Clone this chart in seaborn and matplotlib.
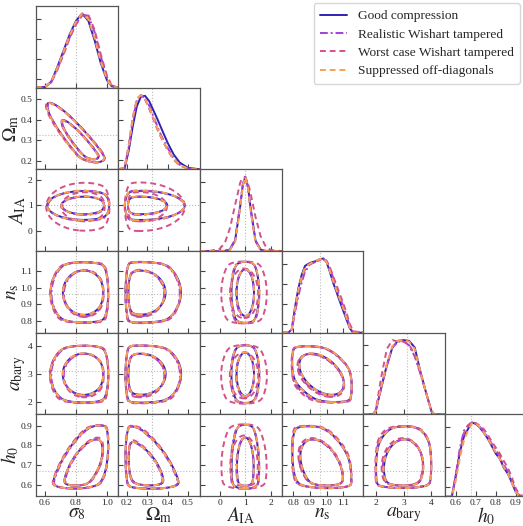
import numpy as np
import matplotlib
matplotlib.use("Agg")
import matplotlib.pyplot as plt
from matplotlib.lines import Line2D
from matplotlib.ticker import FormatStrFormatter
import seaborn as sns

# parameters and axes
LABELS = [r"$\sigma_8$", r"$\Omega_{\rm m}$", r"$A_{\rm IA}$", r"$n_{\rm s}$", r"$a_{\rm bary}$", r"$h_0$"]
LIMITS = [(0.542, 1.07), (0.157, 0.557), (-0.79, 2.42), (0.728, 1.222), (1.56, 4.49), (0.546, 0.956)]
TICKS = [[0.6, 0.8, 1.0], [0.2, 0.3, 0.4, 0.5], [0, 1, 2], [0.8, 0.9, 1.0, 1.1], [2, 3, 4], [0.6, 0.7, 0.8, 0.9]]
TICKFMT = ["%.1f", "%.1f", "%d", "%.1f", "%d", "%.1f"]
TRUTH = [0.8, 0.325, 1.0, 0.96, 3.12, 0.674]

SERIES = ["Good compression", "Realistic Wishart tampered", "Worst case Wishart tampered", "Suppressed off-diagonals"]
COLORS = ["#3022b5", "#a040dc", "#d6508c", "#f7a055"]
STYLES = ["-", (0, (4, 1.5, 1, 1.5)), (0, (3, 2)), (0, (3, 2))]

# 1D marginals (peak = 1)
S8_X = [0.54, 0.6, 0.64, 0.68, 0.72, 0.76, 0.8, 0.84, 0.88, 0.92, 0.96, 1.0, 1.03, 1.07]
S8_GOOD = [0, 0.01, 0.08, 0.28, 0.5, 0.72, 0.9, 1.0, 0.9, 0.64, 0.33, 0.1, 0.02, 0]
S8_REAL = [0, 0.01, 0.07, 0.25, 0.46, 0.68, 0.86, 0.98, 0.97, 0.75, 0.42, 0.14, 0.03, 0]
S8_WORST = [0, 0.01, 0.07, 0.24, 0.45, 0.67, 0.85, 0.97, 0.98, 0.78, 0.45, 0.16, 0.03, 0]
S8_SUPP = [0, 0.01, 0.08, 0.27, 0.49, 0.71, 0.89, 1.0, 0.92, 0.67, 0.35, 0.11, 0.02, 0]

OM_X = [0.16, 0.19, 0.21, 0.23, 0.25, 0.27, 0.29, 0.31, 0.33, 0.35, 0.37, 0.4, 0.43, 0.46, 0.5, 0.56]
OM_GOOD = [0, 0.01, 0.25, 0.58, 0.85, 0.98, 0.99, 0.92, 0.8, 0.68, 0.55, 0.36, 0.2, 0.09, 0.02, 0]
OM_REAL = [0, 0.02, 0.3, 0.66, 0.93, 1.0, 0.96, 0.86, 0.72, 0.58, 0.45, 0.29, 0.15, 0.06, 0.01, 0]
OM_WORST = [0, 0.02, 0.32, 0.7, 0.95, 1.0, 0.94, 0.82, 0.68, 0.54, 0.42, 0.26, 0.13, 0.05, 0.01, 0]
OM_SUPP = [0, 0.02, 0.3, 0.68, 0.95, 1.0, 0.95, 0.84, 0.7, 0.56, 0.43, 0.27, 0.14, 0.06, 0.01, 0]

AIA_X = [-0.8, -0.4, 0.0, 0.2, 0.4, 0.6, 0.8, 0.9, 1.0, 1.1, 1.2, 1.4, 1.6, 1.8, 2.0, 2.4]
AIA_GOOD = [0, 0, 0, 0.002, 0.02, 0.14, 0.6, 0.88, 1.0, 0.88, 0.6, 0.14, 0.02, 0.002, 0, 0]
AIA_REAL = [0, 0, 0, 0.003, 0.025, 0.16, 0.63, 0.9, 1.0, 0.86, 0.57, 0.13, 0.02, 0.002, 0, 0]
AIA_WORST = [0, 0.001, 0.03, 0.11, 0.31, 0.62, 0.92, 0.99, 0.99, 0.92, 0.79, 0.46, 0.2, 0.06, 0.014, 0]
AIA_SUPP = [0, 0, 0, 0.001, 0.015, 0.12, 0.58, 0.88, 1.0, 0.87, 0.57, 0.12, 0.015, 0.001, 0, 0]

NS_X = [0.73, 0.77, 0.79, 0.81, 0.83, 0.85, 0.87, 0.9, 0.93, 0.96, 0.98, 1.0, 1.02, 1.04, 1.06, 1.08, 1.1, 1.12, 1.14, 1.16, 1.22]
NS_GOOD = [0, 0, 0.05, 0.35, 0.6, 0.78, 0.9, 0.94, 0.96, 0.99, 1.0, 0.95, 0.82, 0.67, 0.55, 0.42, 0.3, 0.18, 0.06, 0, 0]
NS_REAL = [0, 0, 0.04, 0.28, 0.5, 0.68, 0.82, 0.92, 0.95, 0.98, 0.99, 0.96, 0.87, 0.74, 0.6, 0.48, 0.36, 0.23, 0.09, 0.01, 0]
NS_WORST = [0, 0, 0.04, 0.3, 0.55, 0.72, 0.85, 0.93, 0.95, 0.98, 1.0, 0.97, 0.88, 0.76, 0.64, 0.52, 0.4, 0.27, 0.12, 0.02, 0]
NS_SUPP = [0, 0, 0.05, 0.33, 0.58, 0.76, 0.88, 0.93, 0.96, 0.99, 1.0, 0.95, 0.83, 0.69, 0.57, 0.45, 0.33, 0.2, 0.07, 0, 0]

AB_X = [1.55, 1.9, 2.0, 2.2, 2.4, 2.6, 2.8, 3.0, 3.2, 3.4, 3.6, 3.8, 4.0, 4.1, 4.5]
AB_GOOD = [0, 0, 0.04, 0.36, 0.66, 0.9, 0.99, 1.0, 0.99, 0.9, 0.58, 0.3, 0.04, 0, 0]
AB_REAL = [0, 0, 0.04, 0.35, 0.65, 0.9, 0.98, 0.98, 0.93, 0.78, 0.55, 0.3, 0.04, 0, 0]
AB_WORST = [0, 0, 0.05, 0.5, 0.88, 1.0, 0.98, 0.98, 0.94, 0.8, 0.56, 0.3, 0.04, 0, 0]
AB_SUPP = [0, 0, 0.04, 0.37, 0.68, 0.92, 0.99, 1.0, 0.98, 0.88, 0.58, 0.3, 0.04, 0, 0]

H0_X = [0.545, 0.58, 0.6, 0.62, 0.64, 0.66, 0.68, 0.7, 0.72, 0.74, 0.76, 0.78, 0.8, 0.82, 0.84, 0.86, 0.88, 0.9, 0.92, 0.96]
H0_GOOD = [0, 0, 0.28, 0.6, 0.8, 0.9, 0.99, 0.97, 0.92, 0.85, 0.77, 0.67, 0.57, 0.5, 0.38, 0.3, 0.18, 0.05, 0, 0]
H0_REAL = [0, 0, 0.3, 0.65, 0.88, 0.95, 0.99, 0.98, 0.93, 0.87, 0.79, 0.7, 0.62, 0.53, 0.42, 0.33, 0.2, 0.07, 0, 0]
H0_WORST = [0, 0, 0.25, 0.6, 0.85, 0.95, 1.0, 0.98, 0.95, 0.9, 0.82, 0.73, 0.65, 0.57, 0.47, 0.38, 0.25, 0.1, 0.01, 0]
H0_SUPP = [0, 0, 0.22, 0.52, 0.75, 0.88, 0.98, 0.98, 0.92, 0.85, 0.77, 0.68, 0.58, 0.5, 0.39, 0.3, 0.18, 0.05, 0, 0]

MARG_X = [S8_X, OM_X, AIA_X, NS_X, AB_X, H0_X]
MARG_Y = [
    [S8_GOOD, S8_REAL, S8_WORST, S8_SUPP],
    [OM_GOOD, OM_REAL, OM_WORST, OM_SUPP],
    [AIA_GOOD, AIA_REAL, AIA_WORST, AIA_SUPP],
    [NS_GOOD, NS_REAL, NS_WORST, NS_SUPP],
    [AB_GOOD, AB_REAL, AB_WORST, AB_SUPP],
    [H0_GOOD, H0_REAL, H0_WORST, H0_SUPP],
]

# 2D posterior summaries: centre, width, prior edges
MEAN_GOOD = [0.85, 0.27, 1.0, 0.97, 3.0, 0.69]
MEAN_REAL = [0.855, 0.265, 0.99, 0.965, 2.97, 0.69]
MEAN_WORST = [0.855, 0.265, 0.95, 0.965, 2.95, 0.695]
MEAN_SUPP = [0.85, 0.268, 1.0, 0.97, 3.0, 0.69]
SIGMA_GOOD = [0.10, 0.09, 0.24, 0.10, 0.55, 0.11]
SIGMA_REAL = [0.10, 0.09, 0.25, 0.105, 0.57, 0.11]
SIGMA_WORST = [0.105, 0.092, 0.40, 0.11, 0.60, 0.115]
SIGMA_SUPP = [0.10, 0.09, 0.245, 0.10, 0.56, 0.11]
PRIOR_LO = [0.3, 0.208, -5.0, 0.79, 1.98, 0.595]
PRIOR_HI = [1.0, 0.9, 5.0, 1.155, 4.03, 0.905]
EDGE = [0.012, 0.007, 0.05, 0.008, 0.05, 0.007]
CORR = {(1, 0): -0.93, (5, 0): 0.65, (5, 1): -0.6, (4, 3): -0.45, (5, 3): -0.4, (5, 4): 0.05}

MEANS = [MEAN_GOOD, MEAN_REAL, MEAN_WORST, MEAN_SUPP]
SIGMAS = [SIGMA_GOOD, SIGMA_REAL, SIGMA_WORST, SIGMA_SUPP]


def box(v, k):
    lo = 1.0 / (1.0 + np.exp(-(v - PRIOR_LO[k]) / EDGE[k]))
    hi = 1.0 / (1.0 + np.exp((v - PRIOR_HI[k]) / EDGE[k]))
    return lo * hi


def panel_density(i, j, s):
    X, Y = np.meshgrid(np.linspace(*LIMITS[j], 180), np.linspace(*LIMITS[i], 180))
    a = (X - MEANS[s][j]) / SIGMAS[s][j]
    b = (Y - MEANS[s][i]) / SIGMAS[s][i]
    r = CORR.get((i, j), 0.0)
    q = (a * a + b * b - 2 * r * a * b) / (1 - r * r)
    return X, Y, np.exp(-0.5 * q) * box(X, j) * box(Y, i)


def hpd_levels(p, masses=(0.95, 0.68)):
    flat = np.sort(p.ravel())[::-1]
    cum = np.cumsum(flat) / flat.sum()
    return [flat[np.searchsorted(cum, m)] for m in masses]


def main():
    sns.set_style("ticks")
    plt.rcParams["font.family"] = ["Liberation Serif", "DejaVu Serif"]
    plt.rcParams["mathtext.fontset"] = "stix"

    fig, axes = plt.subplots(6, 6, figsize=(5.23, 5.26), dpi=100)
    plt.subplots_adjust(left=0.0688, right=1.0077, bottom=0.057, top=0.9886, wspace=0, hspace=0)
    n = len(LABELS)

    for i in range(n):
        for j in range(n):
            ax = axes[i, j]
            if j > i:
                ax.set_axis_off()
                continue
            ax.set_xlim(LIMITS[j])
            ax.axvline(TRUTH[j], color="#bbbbbb", lw=0.8, ls=":", zorder=0)
            if i == j:
                for s in range(len(SERIES)):
                    sns.lineplot(x=MARG_X[i], y=MARG_Y[i][s], ax=ax, color=COLORS[s],
                                 linestyle=STYLES[s], lw=1.4, estimator=None)
                ax.set_ylim(0, 1.1)
                ax.set_yticks([0.12, 0.39, 0.66, 0.93])
            else:
                ax.set_ylim(LIMITS[i])
                ax.axhline(TRUTH[i], color="#bbbbbb", lw=0.8, ls=":", zorder=0)
                for s in range(len(SERIES)):
                    X, Y, p = panel_density(i, j, s)
                    ax.contour(X, Y, p, levels=hpd_levels(p), colors=COLORS[s],
                               linestyles=[STYLES[s]], linewidths=1.4)
                ax.set_yticks(TICKS[i])
                ax.yaxis.set_major_formatter(FormatStrFormatter(TICKFMT[i]))
            ax.set_xticks(TICKS[j])
            ax.xaxis.set_major_formatter(FormatStrFormatter(TICKFMT[j]))
            ax.tick_params(direction="in", length=3.5, width=0.8, labelsize=6.8, color="#444444", pad=2.5)
            ax.tick_params(axis="x", pad=2)
            for sp in ax.spines.values():
                sp.set_color("#555555")
                sp.set_linewidth(0.9)
            ax.set_xlabel("")
            ax.set_ylabel("")
            if i == n - 1:
                ax.set_xlabel(LABELS[j], fontsize=14, labelpad=-1)
            else:
                ax.tick_params(labelbottom=False)
            if j == 0 and i > 0:
                ax.set_ylabel(LABELS[i], fontsize=14, labelpad=0)
            else:
                ax.tick_params(labelleft=False)

    handles = [Line2D([0], [0], color=COLORS[s], linestyle=STYLES[s], lw=1.4) for s in range(len(SERIES))]
    fig.legend(handles, SERIES, loc="upper right", bbox_to_anchor=(0.997, 0.996), fontsize=9.6,
               frameon=True, edgecolor="#cccccc", handlelength=2.0, borderpad=0.5, labelspacing=0.45,
               borderaxespad=0.1)

    fig.savefig("out.png", dpi=100)


if __name__ == "__main__":
    main()
